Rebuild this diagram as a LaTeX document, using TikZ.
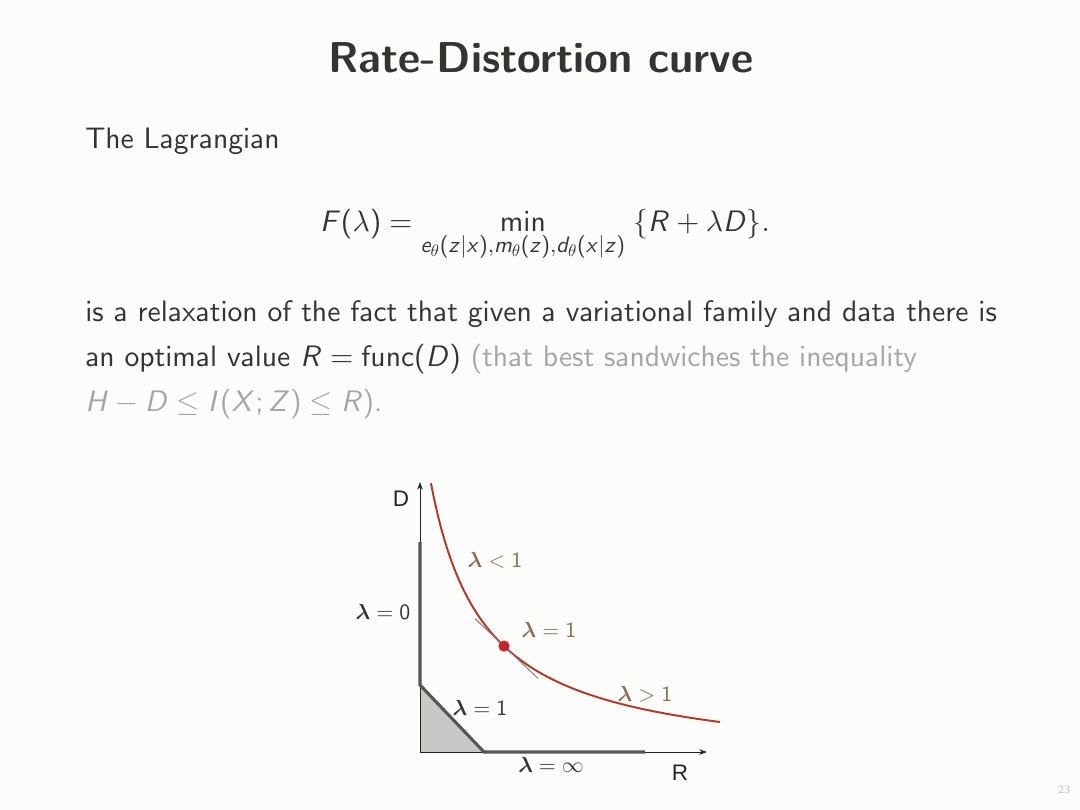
\documentclass[tikz,border=0pt]{standalone}
\usepackage[no-math]{fontspec}
\usetikzlibrary{arrows.meta}
\renewcommand\familydefault{\sfdefault}
\DeclareFontFamily{OT1}{mysfn}{}
\DeclareFontShape{OT1}{mysfn}{m}{n}{<-> cmss10}{}
\DeclareFontFamily{OT1}{mysfi}{}
\DeclareFontShape{OT1}{mysfi}{m}{sl}{<-> cmssi10}{}
\DeclareFontFamily{OML}{mycmm}{\skewchar\font'177}
\DeclareFontShape{OML}{mycmm}{m}{it}{<-> cmmi10}{}
\DeclareFontShape{OML}{mycmm}{b}{it}{<-> cmmib10}{}
\DeclareFontFamily{OMS}{mycmsy}{\skewchar\font'60}
\DeclareFontShape{OMS}{mycmsy}{m}{n}{<-> cmsy10}{}
\DeclareFontFamily{OMX}{mycmex}{}
\DeclareFontShape{OMX}{mycmex}{m}{n}{<-> cmex10}{}
\SetSymbolFont{operators}{normal}{OT1}{mysfn}{m}{n}
\SetSymbolFont{letters}{normal}{OML}{mycmm}{m}{it}
\SetSymbolFont{letters}{bold}{OML}{mycmm}{b}{it}
\SetSymbolFont{symbols}{normal}{OMS}{mycmsy}{m}{n}
\SetSymbolFont{largesymbols}{normal}{OMX}{mycmex}{m}{n}
\DeclareSymbolFont{sfitalic}{OT1}{mysfi}{m}{sl}
\DeclareMathSymbol{F}{\mathalpha}{sfitalic}{`F}
\DeclareMathSymbol{R}{\mathalpha}{sfitalic}{`R}
\DeclareMathSymbol{D}{\mathalpha}{sfitalic}{`D}
\DeclareMathSymbol{H}{\mathalpha}{sfitalic}{`H}
\DeclareMathSymbol{I}{\mathalpha}{sfitalic}{`I}
\DeclareMathSymbol{X}{\mathalpha}{sfitalic}{`X}
\DeclareMathSymbol{Z}{\mathalpha}{sfitalic}{`Z}
\DeclareMathSymbol{e}{\mathalpha}{sfitalic}{`e}
\DeclareMathSymbol{z}{\mathalpha}{sfitalic}{`z}
\DeclareMathSymbol{x}{\mathalpha}{sfitalic}{`x}
\DeclareMathSymbol{m}{\mathalpha}{sfitalic}{`m}
\DeclareMathSymbol{d}{\mathalpha}{sfitalic}{`d}
\DeclareMathSizes{21.05}{21.05}{16}{12}
\newfontfamily\axisfont{Liberation Sans}
\newcommand\blam{\mbox{\boldmath$\lambda$}}
\definecolor{bg}{RGB}{252,252,250}
\definecolor{txt}{RGB}{52,52,52}
\definecolor{soft}{RGB}{165,165,165}
\definecolor{curvered}{RGB}{176,58,44}
\definecolor{dotred}{RGB}{192,38,45}
\definecolor{labbrown}{RGB}{140,108,84}
\definecolor{thickgray}{RGB}{85,85,85}
\definecolor{shadegray}{RGB}{200,200,200}
\definecolor{pagenum}{RGB}{195,195,195}
\tikzset{
  bodytext/.style={anchor=base west, inner sep=0pt, text=txt, font=\fontencoding{OT1}\fontfamily{mysfn}\fontseries{m}\fontshape{n}\fontsize{21.05}{25}\selectfont},
  titletext/.style={anchor=base, inner sep=0pt, text=txt, font=\fontsize{30.7}{36}\selectfont\bfseries},
  axisline/.style={draw=black!85, line width=0.7pt, -{Stealth[length=5.5pt,width=4pt]}},
  thickseg/.style={draw=thickgray, line width=2.2pt},
  rdcurve/.style={draw=curvered, line width=1.4pt},
  tangent/.style={draw=black!50, line width=0.7pt},
  curvelabel/.style={inner sep=0pt, text=labbrown, font=\fontsize{15.5}{17}\selectfont},
  boundlabel/.style={inner sep=0pt, text=txt, font=\fontsize{15.5}{17}\selectfont},
  axislabel/.style={inner sep=0pt, text=black!85, font=\axisfont\fontsize{16}{18}\selectfont},
}
\begin{document}
\begin{tikzpicture}[x=0.025cm,y=-0.025cm]
\useasboundingbox (0,0) rectangle (1080,810);
\fill[bg] (0,0) rectangle (1080,810);
% title and text
\node[titletext] (title) at (541,72) {Rate-Distortion curve};
\node[bodytext] (intro) at (85,148) {The Lagrangian};
\node[bodytext, anchor=base] (eq) at (545,231) {$\displaystyle F(\lambda) = \min_{e_\theta(z|x), m_\theta(z), d_\theta(x|z)} \; \{R + \lambda D\}.$};
\node[bodytext] (l1) at (85,321) {is a relaxation of the fact that given a variational family and data there is};
\node[bodytext] (l2) at (85,366) {an optimal value $R = \mathrm{func}(D)$ \textcolor{soft}{(that best sandwiches the inequality}};
\node[bodytext, text=soft] (l3) at (85,411) {$H - D \le I(X;Z) \le R$).};
\node[inner sep=0pt, text=pagenum, font=\fontsize{8}{9}\selectfont] (page) at (1064,790) {23};
% plot
\coordinate (O) at (420,752);
\coordinate (ytop) at (420,482);
\coordinate (xend) at (707,752);
\coordinate (v1) at (420,542);
\coordinate (v2) at (420,685);
\coordinate (h1) at (484,752);
\coordinate (h2) at (645,752);
\fill[shadegray] (v2) -- (h1) -- (O) -- cycle;
\draw[axisline] (O) -- (ytop);
\draw[axisline] (O) -- (xend);
\draw[thickseg, line cap=butt] (v1) -- (v2) -- (h1) -- (h2);
\draw[rdcurve] plot[domain=11:300, samples=120, smooth] ({420+\x},{766.6-15300/(\x+43)});
\coordinate (t1) at (475,618.6);
\coordinate (t2) at (538,678.4);
\draw[tangent] (t1) -- (t2);
\node[circle, fill=dotred, inner sep=0pt, minimum size=0.28cm] (dot) at (504,646.1) {};
\node[curvelabel] (lless) at (495,560) {$\blam < 1$};
\node[curvelabel] (lone) at (549,630) {$\blam = 1$};
\node[curvelabel] (lmore) at (645,694) {$\blam > 1$};
\node[boundlabel] (lzero) at (383,612) {$\blam = 0$};
\node[boundlabel] (lonel) at (480,708) {$\blam = 1$};
\node[boundlabel] (linf) at (551,765) {$\blam = \infty$};
\node[axislabel] (Dl) at (401,499) {D};
\node[axislabel] (Rl) at (680,773) {R};
\end{tikzpicture}
\end{document}
